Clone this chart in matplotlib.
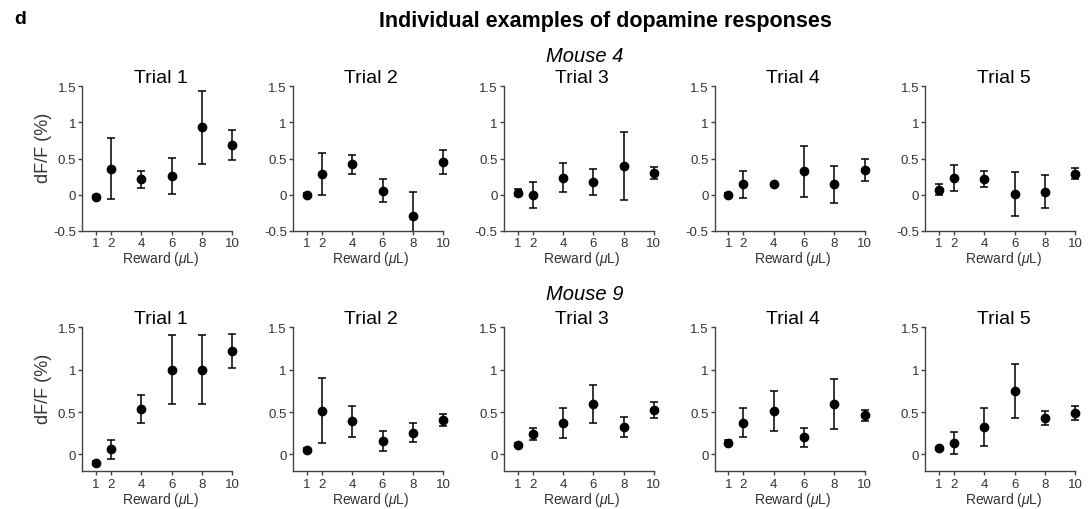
import matplotlib
matplotlib.use("Agg")
import matplotlib.pyplot as plt
from matplotlib import ticker

plt.rcParams["font.family"] = ["Liberation Sans", "DejaVu Sans"]
plt.rcParams["mathtext.fontset"] = "custom"
plt.rcParams["mathtext.it"] = "Liberation Sans:italic"
plt.rcParams["mathtext.rm"] = "Liberation Sans"

# Reward sizes (uL)
rewards = [1, 2, 4, 6, 8, 10]
trial_names = ["Trial 1", "Trial 2", "Trial 3", "Trial 4", "Trial 5"]

# Mouse 4: mean dF/F (%) and error per reward, one row per trial
mouse4_means = [
    [-0.03, 0.36, 0.21, 0.26, 0.93, 0.69],
    [0.00, 0.29, 0.42, 0.055, -0.30, 0.45],
    [0.025, 0.00, 0.235, 0.175, 0.40, 0.30],
    [0.00, 0.14, 0.14, 0.32, 0.14, 0.34],
    [0.07, 0.23, 0.21, 0.01, 0.04, 0.29],
]
mouse4_errs = [
    [0.02, 0.42, 0.12, 0.25, 0.50, 0.21],
    [0.02, 0.29, 0.13, 0.16, 0.34, 0.17],
    [0.05, 0.18, 0.20, 0.175, 0.47, 0.085],
    [0.02, 0.19, 0.02, 0.36, 0.26, 0.15],
    [0.08, 0.18, 0.11, 0.30, 0.23, 0.08],
]

# Mouse 9
mouse9_means = [
    [-0.10, 0.06, 0.53, 1.00, 1.00, 1.225],
    [0.05, 0.515, 0.39, 0.16, 0.255, 0.405],
    [0.11, 0.24, 0.37, 0.59, 0.325, 0.52],
    [0.14, 0.375, 0.51, 0.20, 0.595, 0.46],
    [0.07, 0.13, 0.325, 0.75, 0.43, 0.485],
]
mouse9_errs = [
    [0.02, 0.11, 0.165, 0.41, 0.41, 0.20],
    [0.02, 0.385, 0.18, 0.12, 0.11, 0.07],
    [0.02, 0.075, 0.175, 0.225, 0.12, 0.095],
    [0.03, 0.175, 0.235, 0.115, 0.30, 0.065],
    [0.02, 0.13, 0.225, 0.32, 0.085, 0.085],
]

row_ylims = [(-0.5, 1.5), (-0.2, 1.5)]
row_yticks = [[-0.5, 0, 0.5, 1, 1.5], [0, 0.5, 1, 1.5]]

W, H = 1088, 510
fig = plt.figure(figsize=(W / 100, H / 100), dpi=100)

XLO, XHI = 0.1, 10.4
px_per_unit = 15.15
ax_w = (XHI - XLO) * px_per_unit
lefts = [82.4 + 210.75 * i for i in range(5)]
row_tops = [87.3, 328.3]
row_bottoms = [231.7, 472.3]

spine_col = "#444444"
text_col = "#333333"

for r, (means, errs) in enumerate([(mouse4_means, mouse4_errs),
                                   (mouse9_means, mouse9_errs)]):
    for c in range(5):
        l = lefts[c] / W
        b = 1 - row_bottoms[r] / H
        h = (row_bottoms[r] - row_tops[r]) / H
        ax = fig.add_axes([l, b, ax_w / W, h])
        ax.errorbar(rewards, means[c], yerr=errs[c], fmt="o", color="black",
                    ms=6, elinewidth=1.1, capsize=2.8, capthick=1.1)
        ax.set_xlim(XLO, XHI)
        ax.set_ylim(*row_ylims[r])
        ax.set_xticks(rewards)
        ax.set_yticks(row_yticks[r])
        ax.yaxis.set_major_formatter(ticker.FuncFormatter(lambda v, p: f"{v:g}"))
        for s in ("top", "right"):
            ax.spines[s].set_visible(False)
        for s in ("left", "bottom"):
            ax.spines[s].set_color(spine_col)
            ax.spines[s].set_linewidth(1.0)
        ax.spines["bottom"].set_bounds(XLO, 10)
        ax.tick_params(direction="out", length=3, width=1.0, color=spine_col,
                       labelsize=9.5, labelcolor=text_col, pad=1.5)
        ax.set_xlabel(r"Reward ($\mu$L)", fontsize=10, color=text_col, labelpad=0)
        ax.set_title(trial_names[c], fontsize=14, pad=1)
        if c == 0:
            ax.set_ylabel("dF/F (%)", fontsize=13, color=text_col)
            ax.yaxis.set_label_coords(-0.195, 0.58)

fig.text(14 / W, 1 - 20 / H, "d", fontsize=14, fontweight="bold",
         ha="left", va="center")
fig.text(605 / W, 1 - 21 / H, "Individual examples of dopamine responses",
         fontsize=15.5, fontweight="bold", ha="center", va="center")
fig.text(585 / W, 1 - 57 / H, "Mouse 4", fontsize=14.5, style="italic",
         ha="center", va="center")
fig.text(585 / W, 1 - 295 / H, "Mouse 9", fontsize=14.5, style="italic",
         ha="center", va="center")

fig.savefig("out.png", dpi=100, facecolor="white")
